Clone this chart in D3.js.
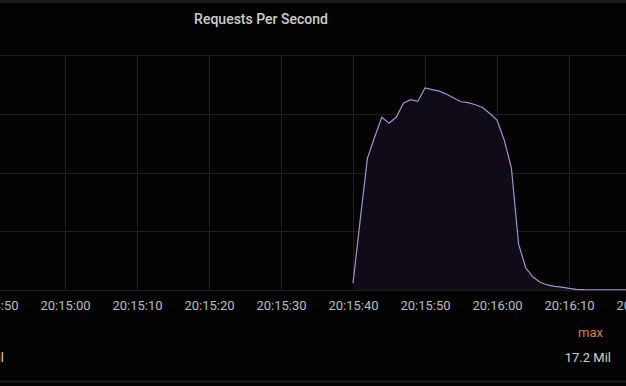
<!DOCTYPE html>
<html>
<head>
<meta charset="utf-8">
<script src="https://cdn.jsdelivr.net/npm/d3@7"></script>
<style>
	body { margin: 0; background: #030303; }
	svg { display: block; font-family: Roboto, "Noto Sans", sans-serif; }
</style>
</head>
<body>
<svg id="graph" width="626" height="386"></svg>
<script>
// samples, one per second (Mil requests/s)
const times = ["20:15:40","20:15:41","20:15:42","20:15:43","20:15:44","20:15:45","20:15:46","20:15:47",
	"20:15:48","20:15:49","20:15:50","20:15:51","20:15:52","20:15:53","20:15:54","20:15:55","20:15:56",
	"20:15:57","20:15:58","20:15:59","20:16:00","20:16:01","20:16:02","20:16:03","20:16:04","20:16:05",
	"20:16:06","20:16:07","20:16:08","20:16:09","20:16:10","20:16:11","20:16:12","20:16:13","20:16:14",
	"20:16:15","20:16:16","20:16:17","20:16:18"];
const values = [0.57, 5.97, 11.2, 13.0, 14.7, 14.2, 14.7, 15.9,
	16.2, 16.05, 17.2, 17.06, 16.92, 16.66, 16.34, 16.02, 15.95,
	15.77, 15.53, 15.02, 14.47, 12.77, 10.38, 3.9, 1.87, 1.1,
	0.66, 0.43, 0.31, 0.24, 0.14, 0.06, 0.03, 0.02, 0.02,
	0.02, 0.02, 0.02, 0.02];
const yTicks = [0, 5, 10, 15, 20];
const title = "Requests Per Second";
const legendHeader = "max";
const legendValues = ["0 Mil", "17.2 Mil"];

const parseTime = d3.timeParse("%H:%M:%S");
const data = times.map((t, i) => ({ t: parseTime(t), v: values[i] }));

const svg = d3.select("#graph");
const W = 626;

const x = d3.scaleTime()
	.domain([parseTime("20:14:50"), parseTime("20:16:20")])
	.range([-7, 641]);
const y = d3.scaleLinear().domain([0, 20]).range([290, 55]);

// panel edges
svg.append("rect").attr("x", 0).attr("y", 0).attr("width", W).attr("height", 3).attr("fill", "#1b1b1b");
svg.append("line").attr("x1", 0).attr("x2", W).attr("y1", 381.5).attr("y2", 381.5)
	.attr("stroke", "#1e1e1e").attr("stroke-width", 2);

svg.append("text")
	.attr("x", 261).attr("y", 24)
	.attr("text-anchor", "middle")
	.attr("fill", "#cdcdcd")
	.attr("font-size", 14).attr("font-weight", 500)
	.text(title);

// grid
const xTicks = x.ticks(d3.timeSecond.every(10));
svg.append("g").selectAll("line").data(yTicks).join("line")
	.attr("x1", 0).attr("x2", W)
	.attr("y1", d => Math.round(y(d)) + 0.5).attr("y2", d => Math.round(y(d)) + 0.5)
	.attr("stroke", "#202020");
svg.append("g").selectAll("line").data(xTicks).join("line")
	.attr("x1", d => Math.round(x(d)) + 0.5).attr("x2", d => Math.round(x(d)) + 0.5)
	.attr("y1", y(20)).attr("y2", y(0))
	.attr("stroke", "#202020");

// series
const area = d3.area().x(d => x(d.t)).y0(y(0)).y1(d => y(d.v));
const line = d3.line().x(d => x(d.t)).y(d => y(d.v));
svg.append("path").datum(data).attr("d", area).attr("fill", "#0f0b17");
svg.append("path").datum(data).attr("d", line)
	.attr("fill", "none").attr("stroke", "#a88fd0").attr("stroke-width", 1.2);

// x axis
const xAxis = svg.append("g")
	.attr("transform", "translate(0,290)")
	.call(d3.axisBottom(x).ticks(d3.timeSecond.every(10)).tickFormat(d3.timeFormat("%H:%M:%S")).tickSize(0));
xAxis.select(".domain").remove();
xAxis.selectAll("text")
	.attr("y", 20).attr("dy", 0)
	.attr("fill", "#bdbdbd")
	.attr("font-size", 13)
	.attr("font-family", "Roboto, sans-serif");

// legend
svg.append("text").attr("x", 603).attr("y", 337).attr("text-anchor", "end")
	.attr("fill", "#d9822b").attr("font-size", 13).text(legendHeader);
svg.append("text").attr("x", 4).attr("y", 362).attr("text-anchor", "end")
	.attr("fill", "#cfcfcf").attr("font-size", 13).text(legendValues[0]);
svg.append("text").attr("x", 611).attr("y", 362).attr("text-anchor", "end")
	.attr("fill", "#cfcfcf").attr("font-size", 13).text(legendValues[1]);
</script>
</body>
</html>
